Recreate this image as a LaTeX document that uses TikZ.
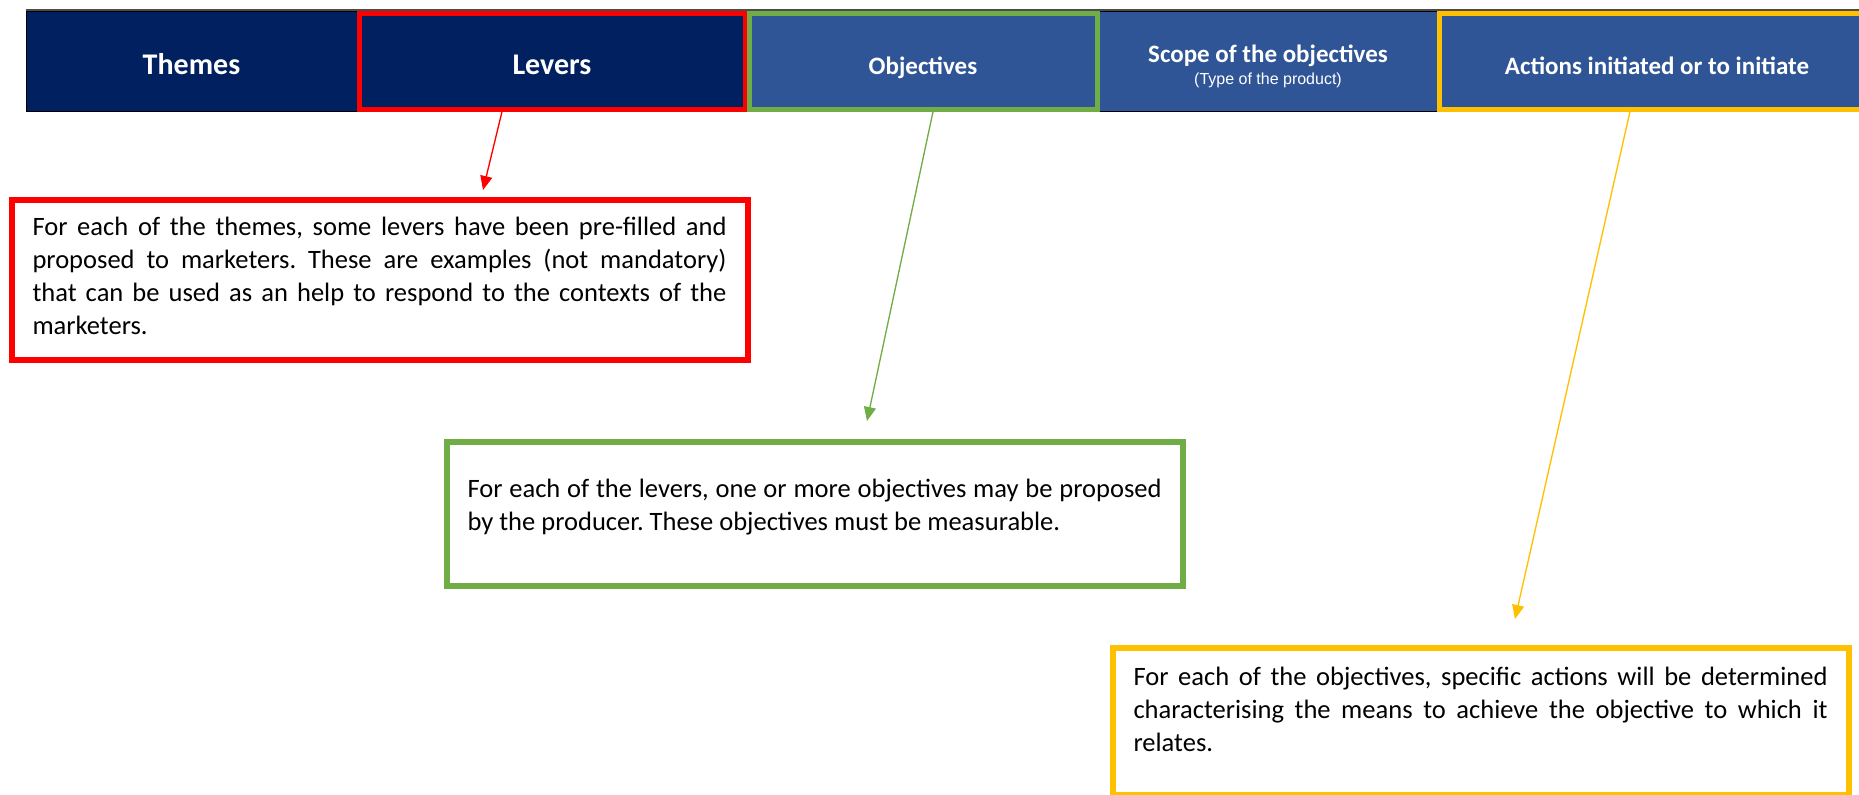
\documentclass[tikz,border=0pt]{standalone}
\usepackage{fontspec}
\setmainfont{Carlito}
\newfontfamily\arialfont{Liberation Sans}
\usetikzlibrary{arrows.meta,calc}
\definecolor{navy}{RGB}{0,32,96}
\definecolor{steel}{RGB}{47,85,151}
\definecolor{leafgreen}{RGB}{112,173,71}
\definecolor{gold}{RGB}{255,192,0}
\frenchspacing
\tikzset{
  cell/.style={rectangle, inner sep=0pt, minimum height=75pt, text height=19pt, text depth=0pt,
    draw=black, line width=0.75pt, text=white},
  navycell/.style={cell, fill=navy, font=\bfseries\fontsize{22.5}{27}\selectfont},
  bluecell/.style={cell, fill=steel, font=\bfseries\fontsize{18.75}{22}\selectfont},
  frame/.style={line width=3.75pt},
  notebox/.style={rectangle, line width=4.5pt, fill=white, inner sep=0pt, minimum width=552pt,
    text width=520.5pt, align=justify, text height=0pt, font=\fontsize{19.9}{24.9}\selectfont,
    execute at begin node={\tolerance=9999\hyphenpenalty=10000\relax}},
  pointer/.style={-{Triangle[length=10.5pt,width=9pt]}, line width=1pt},
}
\begin{document}
\begin{tikzpicture}[x=0.75pt, y=-0.75pt]
\useasboundingbox (0,0) rectangle (1859,795);
% header row
\node[navycell, minimum width=248.25pt] (themes) at (191.5,62) {Themes};
\node[navycell, minimum width=292.5pt] (levers) at (552,62) {Levers};
\node[bluecell, minimum width=264pt] (objectives) at (923,62) {Objectives};
\node[bluecell, minimum width=253.5pt, align=center, text height=34.5pt] (scope) at (1268,62)
  {Scope of the objectives\\[-5.5pt]{\arialfont\mdseries\fontsize{12}{14}\selectfont(Type of the product)}};
\node[bluecell, minimum width=330pt] (actions) at (1657,62) {Actions initiated or to initiate};
\draw[line width=1.5pt, black!70] ($(themes.north west)+(0,-1)$) -- ($(actions.north east)+(0,-1)$);
% coloured frames
\draw[frame, red] ($(levers.north west)+(2.5,2.5)$) rectangle ($(levers.south east)+(-2.5,-2.5)$);
\draw[frame, leafgreen] ($(objectives.north west)+(2.5,2.5)$) rectangle ($(objectives.south east)+(-2.5,-2.5)$);
\draw[frame, gold] ($(actions.north west)+(2.5,2.5)$) rectangle ($(actions.south east)+(-2.5,-2.5)$);
% notes
\node[notebox, draw=red, minimum height=120pt, text depth=67.5pt] (leverbox) at (379.5,280)
  {For each of the themes, some levers have been pre-filled and\linebreak
   proposed to marketers. These are examples (not mandatory)\linebreak
   that can be used as an help to respond to the contexts of the\linebreak
   marketers.};
\node[notebox, draw=leafgreen, minimum height=108pt, text depth=25.5pt] (objbox) at (814.5,514)
  {For each of the levers, one or more objectives may be proposed\linebreak
   by the producer. These objectives must be measurable.};
\node[notebox, draw=gold, minimum height=110.25pt, text depth=54pt] (actbox) at (1480.5,721.5)
  {For each of the objectives, specific actions will be determined\linebreak
   characterising the means to achieve the objective to which it\linebreak
   relates.};
% pointers
\draw[pointer, red] ($(levers.south)+(-49,-5)$) -- ($(leverbox.north)+(103.5,-7)$);
\draw[pointer, leafgreen] ($(objectives.south)+(11,-5.5)$) -- ($(objbox.north)+(52.5,-18)$);
\draw[pointer, gold] ($(actions.south)+(-26,-5.5)$) -- ($(actbox.north)+(34.5,-26)$);
\end{tikzpicture}
\end{document}
